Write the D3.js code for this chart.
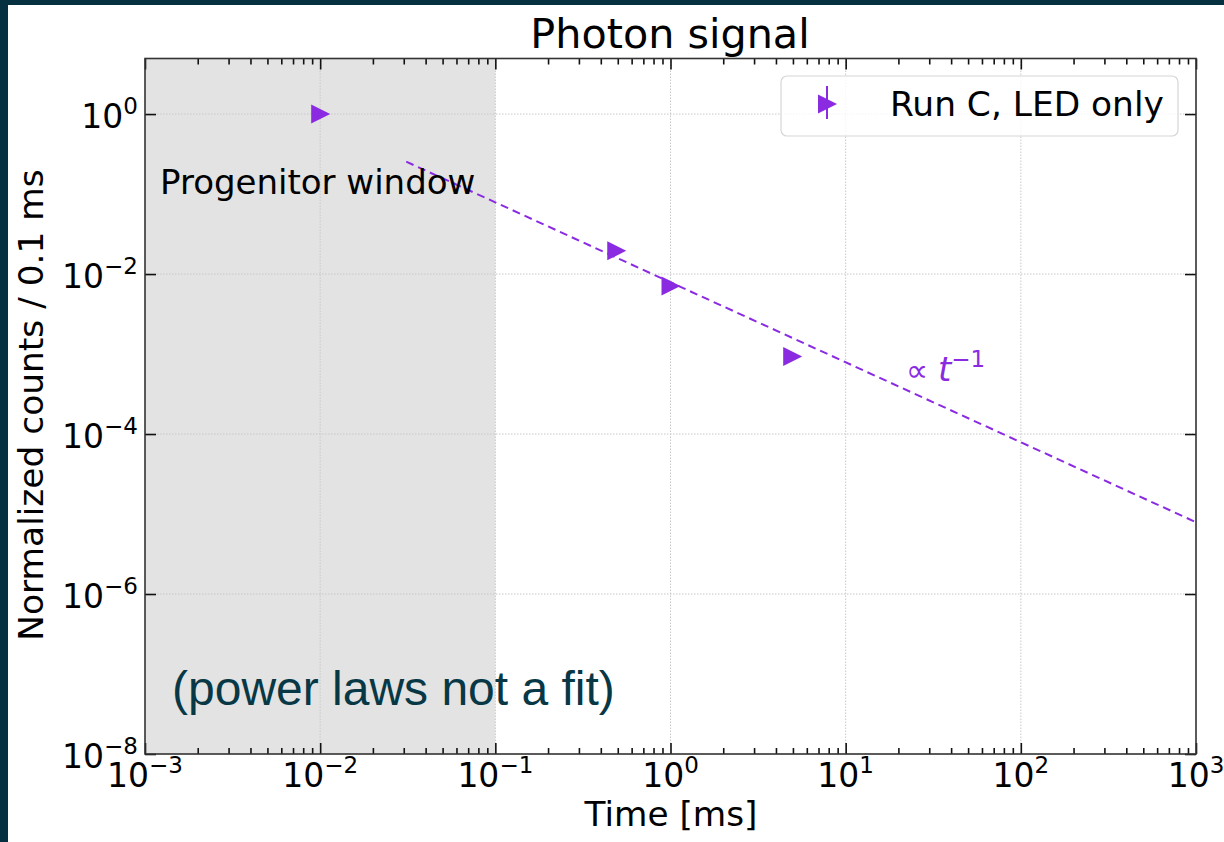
<!DOCTYPE html>
<html>
<head>
<meta charset="utf-8">
<script src="https://cdn.jsdelivr.net/npm/d3@7"></script>
<style>
  body { margin: 0; background: #04303f; }
  svg { display: block; }
  text { font-family: "DejaVu Sans", sans-serif; fill: #000; }
</style>
</head>
<body>
<div id="chart"></div>
<script>
// data
var runTimes = [0.01, 0.49, 1.0, 4.95];
var runCounts = [1.0, 0.0195, 0.0071, 0.00093];
var guideTimes = [0.031, 1000];
var guideCounts = [0.254, 7.9e-6];
var windowRange = [0.001, 0.1];
var xMajor = [1e-3, 1e-2, 1e-1, 1e0, 1e1, 1e2, 1e3];
var xExp = ["−3", "−2", "−1", "0", "1", "2", "3"];
var yMajor = [1e-8, 1e-6, 1e-4, 1e-2, 1e0];
var yExp = ["−8", "−6", "−4", "−2", "0"];

var W = 1224, H = 842;
var pLeft = 145, pRight = 1196, pTop = 58.5, pBottom = 754;
var purple = "#8a2be2";

var svg = d3.select("#chart").append("svg")
    .attr("width", W)
    .attr("height", H);

// dark frame + white page
svg.append("rect").attr("width", W).attr("height", H).attr("fill", "#04303f");
svg.append("rect").attr("x", 8).attr("y", 5).attr("width", W - 8).attr("height", H - 5).attr("fill", "#fff");

var x = d3.scaleLog().domain([1e-3, 1e3]).range([pLeft, pRight]);
var y = d3.scaleLog().domain([1e-8, 4.95]).range([pBottom, pTop]);

// progenitor window shading
svg.append("rect")
    .attr("x", x(windowRange[0]))
    .attr("y", pTop)
    .attr("width", x(windowRange[1]) - x(windowRange[0]))
    .attr("height", pBottom - pTop)
    .attr("fill", "#e3e3e3");

// grid
var grid = svg.append("g").attr("stroke", "#c8c8c8").attr("stroke-width", 1).attr("stroke-dasharray", "1.5,1.5");
grid.selectAll(".gx").data(xMajor.slice(1, -1)).enter().append("line")
    .attr("x1", function(d) { return x(d); }).attr("x2", function(d) { return x(d); })
    .attr("y1", pTop).attr("y2", pBottom);
grid.selectAll(".gy").data(yMajor.slice(1)).enter().append("line")
    .attr("x1", pLeft).attr("x2", pRight)
    .attr("y1", function(d) { return y(d); }).attr("y2", function(d) { return y(d); });

// minor x ticks
var xMinor = [];
for (var e = -3; e < 3; ++e) {
    for (var m = 2; m <= 9; ++m) xMinor.push(m * Math.pow(10, e));
}

// axes with inward ticks
svg.append("g").attr("transform", "translate(0," + pBottom + ")")
    .call(d3.axisBottom(x).tickValues(xMinor).tickSize(-6).tickFormat(""));
svg.append("g").attr("transform", "translate(0," + pBottom + ")")
    .call(d3.axisBottom(x).tickValues(xMajor).tickSize(-11).tickFormat(""));
svg.append("g").attr("transform", "translate(0," + pTop + ")")
    .call(d3.axisTop(x).tickValues(xMinor).tickSize(-6).tickFormat(""));
svg.append("g").attr("transform", "translate(0," + pTop + ")")
    .call(d3.axisTop(x).tickValues(xMajor).tickSize(-11).tickFormat(""));
svg.append("g").attr("transform", "translate(" + pLeft + ",0)")
    .call(d3.axisLeft(y).tickValues(yMajor).tickSize(-11).tickFormat(""));
svg.append("g").attr("transform", "translate(" + pRight + ",0)")
    .call(d3.axisRight(y).tickValues(yMajor).tickSize(-11).tickFormat(""));
svg.selectAll(".domain").attr("stroke", "none");
svg.selectAll(".tick line").attr("stroke", "#111").attr("stroke-width", 1.6);

svg.append("rect")
    .attr("x", pLeft).attr("y", pTop)
    .attr("width", pRight - pLeft).attr("height", pBottom - pTop)
    .attr("fill", "none").attr("stroke", "#333").attr("stroke-width", 1.6);

// tick labels
xMajor.forEach(function(d, i) {
    var t = svg.append("text")
        .attr("x", x(d)).attr("y", 787)
        .attr("text-anchor", "middle")
        .attr("font-size", 33);
    t.append("tspan").text("10");
    t.append("tspan").attr("dy", -14).attr("font-size", 23).text(xExp[i]);
});
yMajor.forEach(function(d, i) {
    var t = svg.append("text")
        .attr("x", 138).attr("y", y(d) + 14)
        .attr("text-anchor", "end")
        .attr("font-size", 33);
    t.append("tspan").text("10");
    t.append("tspan").attr("dy", -14).attr("font-size", 23).text(yExp[i]);
});

// power law guide
svg.append("path")
    .datum(guideTimes.map(function(t, i) { return [t, guideCounts[i]]; }))
    .attr("d", d3.line().x(function(d) { return x(d[0]); }).y(function(d) { return y(d[1]); }))
    .attr("fill", "none")
    .attr("stroke", purple)
    .attr("stroke-width", 2)
    .attr("stroke-dasharray", "8,5");

// markers
var tri = "M-9,-9.5L10,0L-9,9.5Z";
svg.selectAll(".pt").data(runTimes).enter().append("path")
    .attr("d", tri)
    .attr("transform", function(d, i) { return "translate(" + x(d) + "," + y(runCounts[i]) + ")"; })
    .attr("fill", purple);

// annotations
svg.append("text").attr("x", 160).attr("y", 194).attr("font-size", 34).text("Progenitor window");
svg.append("text")
    .attr("x", 172).attr("y", 705)
    .attr("font-size", 48)
    .style("font-family", "'Liberation Sans', Arial, sans-serif")
    .style("fill", "#083845")
    .text("(power laws not a fit)");
var pl = svg.append("text").attr("x", 906).attr("y", 381).attr("font-size", 31).style("fill", purple);
pl.append("tspan").text("∝ ");
pl.append("tspan").attr("font-style", "italic").attr("font-size", 34).text("t");
pl.append("tspan").attr("dy", -14).attr("font-size", 23).text("−1");

// legend
svg.append("rect")
    .attr("x", 781).attr("y", 76).attr("width", 397).attr("height", 60)
    .attr("rx", 6)
    .attr("fill", "#fff").attr("fill-opacity", 0.8)
    .attr("stroke", "#d6d6d6").attr("stroke-width", 1.2);
svg.append("line")
    .attr("x1", 827).attr("x2", 827).attr("y1", 86).attr("y2", 119)
    .attr("stroke", purple).attr("stroke-width", 2);
svg.append("path").attr("d", tri).attr("transform", "translate(827,104)").attr("fill", purple);
svg.append("text").attr("x", 890).attr("y", 116).attr("font-size", 34.4).text("Run C, LED only");

// titles
svg.append("text").attr("x", 670).attr("y", 48).attr("text-anchor", "middle").attr("font-size", 41.3).text("Photon signal");
svg.append("text").attr("x", 671).attr("y", 826).attr("text-anchor", "middle").attr("font-size", 34.3).text("Time [ms]");
svg.append("text")
    .attr("transform", "translate(43,405) rotate(-90)")
    .attr("text-anchor", "middle")
    .attr("font-size", 34.4)
    .text("Normalized counts / 0.1 ms");
</script>
</body>
</html>
